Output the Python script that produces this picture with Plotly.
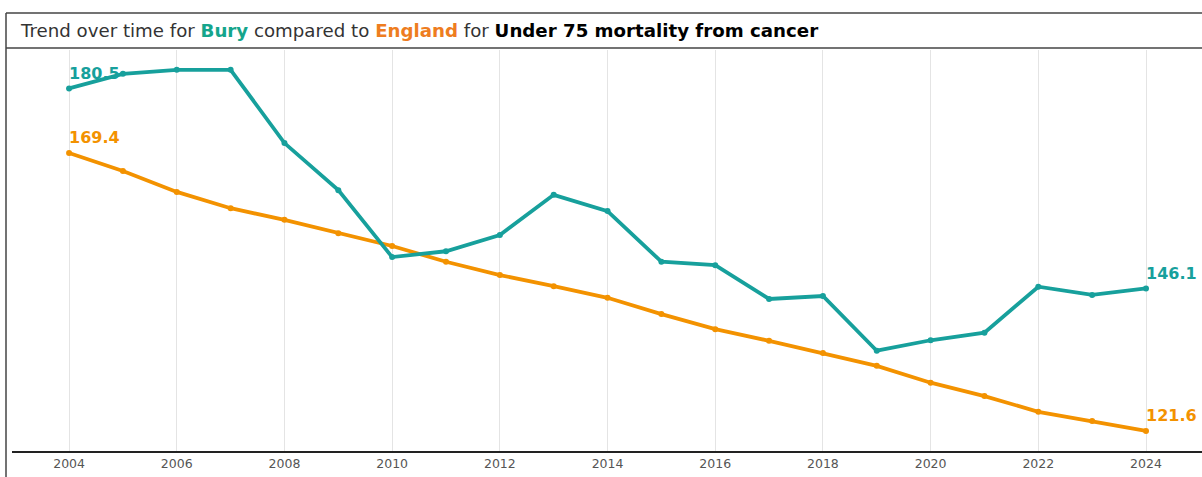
import plotly.graph_objects as go

years = list(range(2004, 2025))
bury = [180.5, 183.0, 183.7, 183.7, 171.1, 163.0, 151.5, 152.5, 155.3, 162.2, 159.4,
        150.7, 150.1, 144.3, 144.8, 135.4, 137.2, 138.5, 146.4, 145.0, 146.1]
england = [169.4, 166.3, 162.7, 159.9, 157.9, 155.6, 153.4, 150.7, 148.4, 146.5, 144.5,
           141.7, 139.1, 137.1, 135.0, 132.8, 129.9, 127.6, 124.9, 123.3, 121.6]
tick_years = list(range(2004, 2025, 2))

TEAL = "#17a09c"
ORANGE = "#f39200"
FONT = "DejaVu Sans, Arial"

fig = go.Figure()
fig.add_trace(go.Scatter(x=years, y=england, mode="lines+markers", name="England",
                         line=dict(color=ORANGE, width=3.8), marker=dict(size=6, color=ORANGE),
                         hoverinfo="x+y"))
fig.add_trace(go.Scatter(x=years, y=bury, mode="lines+markers", name="Bury",
                         line=dict(color=TEAL, width=3.8), marker=dict(size=6, color=TEAL),
                         hoverinfo="x+y"))

def lab(x, y, color):
    return dict(x=x, y=y, xref="x", yref="y", text=f"<b>{y}</b>", showarrow=False,
                xanchor="left", yanchor="middle", xshift=-2, yshift=15,
                font=dict(family=FONT, size=16, color=color))

# convert pixel coords to paper coords (plot area x:12..1202, y:50..451)
def px(xp):
    return (xp - 12) / 1190.0

def py(yp):
    return (451 - yp) / 401.0

annotations = [
    lab(years[0], bury[0], TEAL), lab(years[0], england[0], ORANGE),
    lab(years[-1], bury[-1], TEAL), lab(years[-1], england[-1], ORANGE),
    dict(x=px(18), y=py(31), xref="paper", yref="paper", showarrow=False,
         text=("Trend over time for <span style='color:#15a58c'><b>Bury</b></span> compared to "
               "<span style='color:#ee7d1f'><b>England</b></span> for "
               "<span style='color:#000'><b>Under 75 mortality from cancer</b></span>"),
         font=dict(family=FONT, size=18.2, color="#333"),
         xanchor="left", yanchor="middle"),
]

shapes = [
    dict(type="line", xref="paper", yref="paper", x0=px(6), x1=px(1210), y0=py(13), y1=py(13),
         line=dict(color="#444", width=1.5)),
    dict(type="line", xref="paper", yref="paper", x0=px(6), x1=px(6), y0=py(13), y1=py(480),
         line=dict(color="#444", width=1.5)),
    dict(type="line", xref="paper", yref="paper", x0=px(6), x1=px(1210), y0=py(48), y1=py(48),
         line=dict(color="#444", width=1.5)),
]

fig.update_layout(
    width=1202, height=477,
    margin=dict(l=12, r=0, t=50, b=26),
    paper_bgcolor="white", plot_bgcolor="white",
    showlegend=False,
    annotations=annotations,
    shapes=shapes,
    xaxis=dict(range=[2002.94, 2025.04], tickvals=tick_years, ticktext=[str(t) for t in tick_years],
               showgrid=True, gridcolor="#e4e4e4", gridwidth=1, zeroline=False,
               showline=True, linecolor="#222", linewidth=1.5, ticks="",
               tickfont=dict(family=FONT, size=12.5, color="#555")),
    yaxis=dict(range=[118.16, 187.1], showgrid=False, zeroline=False, showticklabels=False,
               showline=False),
)

fig.write_html("out.html", config={"displayModeBar": False},
               post_script="document.body.style.margin='0';document.body.style.overflow='hidden';")
